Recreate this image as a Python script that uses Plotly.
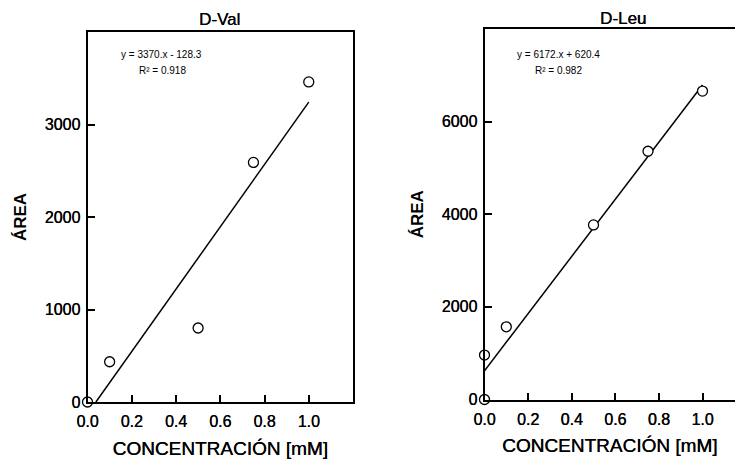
import plotly.graph_objects as go

# Calibration data: concentration (mM) vs peak area
conc_val = [0.0, 0.1, 0.5, 0.75, 1.0]
area_val = [0, 435, 800, 2590, 3460]
slope_val, icpt_val, r2_val = 3370, -128.3, 0.918

conc_leu = [0.0, 0.0, 0.1, 0.5, 0.75, 1.0]
area_leu = [0, 960, 1570, 3770, 5360, 6660]
slope_leu, icpt_leu, r2_leu = 6172, 620.4, 0.982

x_ticks = [0.0, 0.2, 0.4, 0.6, 0.8, 1.0]
y_ticks_val = [0, 1000, 2000, 3000]
y_ticks_leu = [0, 2000, 4000, 6000]

FONT = "Liberation Sans, Arial, sans-serif"
HEAVY = "0.35px 0 0 #000"  # slight thickening of the label strokes

fig = go.Figure()

# Fitted lines (from the regression equations)
x0_val = -icpt_val / slope_val
fit_x_val = [x0_val, 1.0]
fit_y_val = [slope_val * x + icpt_val for x in fit_x_val]
fit_x_leu = [0.0, 1.0]
fit_y_leu = [slope_leu * x + icpt_leu for x in fit_x_leu]

fig.add_trace(go.Scatter(x=fit_x_val, y=fit_y_val, mode="lines",
                         line=dict(color="black", width=1.5),
                         xaxis="x", yaxis="y", showlegend=False))
fig.add_trace(go.Scatter(x=conc_val, y=area_val, mode="markers",
                         marker=dict(symbol="circle", size=10, color="white",
                                     line=dict(color="black", width=1.3)),
                         cliponaxis=False, xaxis="x", yaxis="y", showlegend=False))
fig.add_trace(go.Scatter(x=fit_x_leu, y=fit_y_leu, mode="lines",
                         line=dict(color="black", width=1.5),
                         xaxis="x2", yaxis="y2", showlegend=False))
fig.add_trace(go.Scatter(x=conc_leu, y=area_leu, mode="markers",
                         marker=dict(symbol="circle", size=10, color="white",
                                     line=dict(color="black", width=1.3)),
                         cliponaxis=False, xaxis="x2", yaxis="y2", showlegend=False))

W, H = 735, 466

def xfrac(px):
    return px / W

def yfrac(py):
    return 1 - py / H

common_x = dict(tickvals=x_ticks, ticktext=[f"{v:.1f}" for v in x_ticks],
                ticks="inside", ticklen=7, tickwidth=2, tickcolor="black",
                showline=True, linecolor="black", linewidth=2,
                showgrid=False, zeroline=False, automargin=False,
                ticklabelstandoff=4,
                tickfont=dict(family=FONT, size=16, color="black", shadow=HEAVY),
                title=dict(text="CONCENTRACIÓN [mM]", standoff=12,
                           font=dict(family=FONT, size=19, color="black",
                                     shadow=HEAVY)))
common_y = dict(ticks="inside", ticklen=7, tickwidth=2, tickcolor="black",
                showline=True, linecolor="black", linewidth=2,
                showgrid=False, zeroline=False, automargin=False,
                ticklabelstandoff=2,
                tickfont=dict(family=FONT, size=16, color="black", shadow=HEAVY),
                title=dict(text="<b>ÁREA</b>", standoff=14,
                           font=dict(family=FONT, size=17, color="black")))

def centred(text, x, y, font):
    return dict(text=text, x=xfrac(x), y=yfrac(y), xref="paper", yref="paper",
                xanchor="center", yanchor="middle", showarrow=False,
                align="center", font=font)

title_font = dict(family=FONT, size=17, color="black", shadow=HEAVY)
eq_font = dict(family=FONT, size=10, color="black")

fig.update_layout(
    width=W, height=H,
    margin=dict(l=0, r=0, t=0, b=0, autoexpand=False),
    paper_bgcolor="white", plot_bgcolor="white",
    xaxis=dict(common_x, domain=[xfrac(87.5), xfrac(353)], range=[0, 1.2],
               mirror=True, anchor="y"),
    yaxis=dict(common_y, domain=[yfrac(402), yfrac(32)], range=[0, 4000],
               tickvals=y_ticks_val, mirror=True, anchor="x"),
    xaxis2=dict(common_x, domain=[xfrac(484.5), 1.0], range=[0, 250.5 / 218],
                mirror=True, anchor="y2"),
    yaxis2=dict(common_y, domain=[yfrac(399.5), yfrac(29)], range=[0, 8000],
                tickvals=y_ticks_leu, mirror=False, anchor="x2"),
    annotations=[
        centred("D-Val", 219, 19, title_font),
        centred("D-Leu", 623, 18, title_font),
        centred(f"y = {slope_val}.x - {abs(icpt_val)}", 161, 54, eq_font),
        centred(f"R² = {r2_val}", 162, 71, eq_font),
        centred(f"y = {slope_leu}.x + {icpt_leu}", 558, 54, eq_font),
        centred(f"R² = {r2_leu}", 558, 71, eq_font),
    ],
)

fig.write_html("out.html")
